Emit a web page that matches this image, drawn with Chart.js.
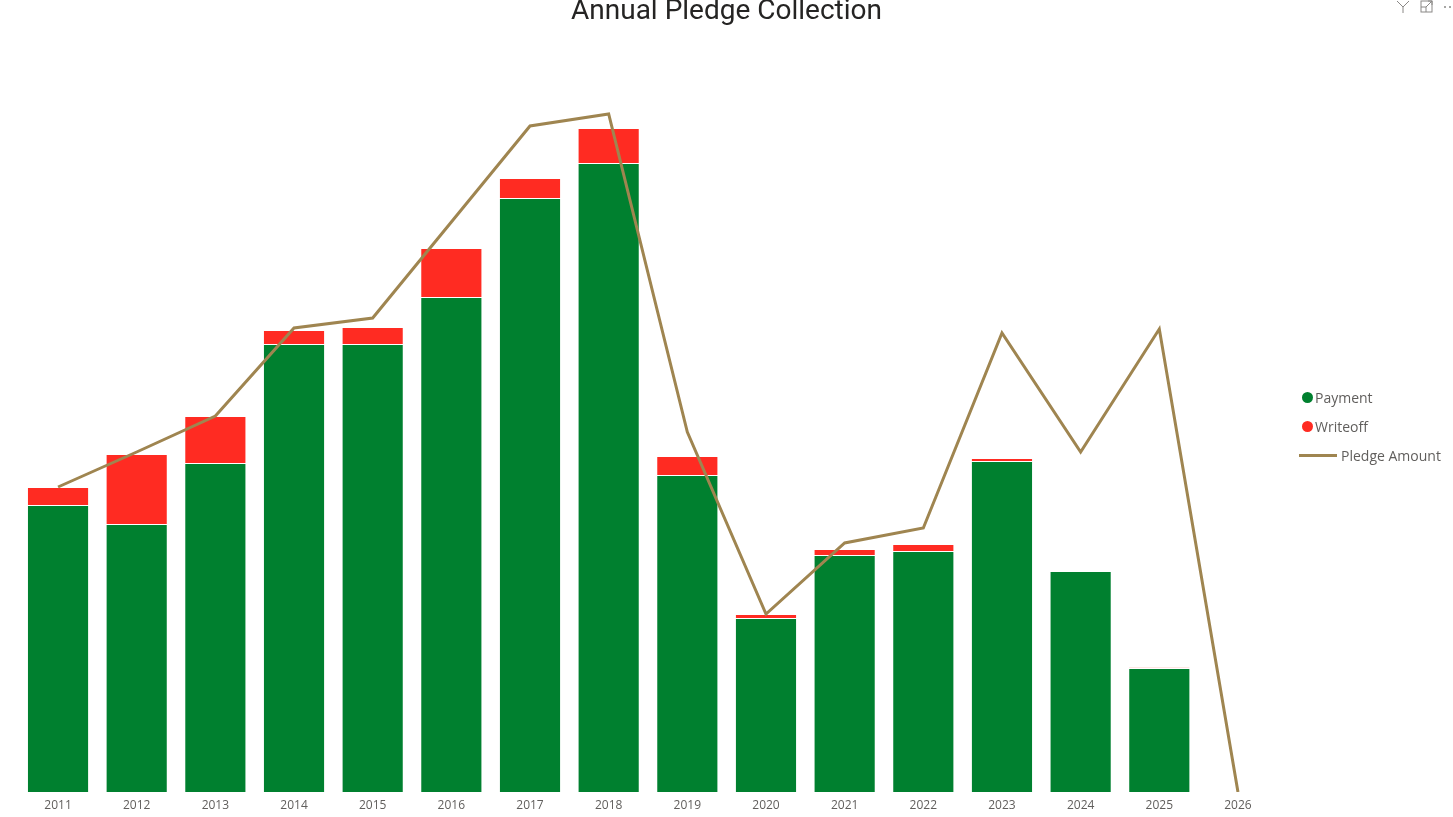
<!DOCTYPE html>
<html>
<head>
<meta charset="utf-8">
<title>Annual Pledge Collection</title>
<script src="https://cdn.jsdelivr.net/npm/chart.js@4/dist/chart.umd.min.js"></script>
<style>
  html, body { margin: 0; padding: 0; background: #fff; overflow: hidden; }
  #wrap { position: relative; width: 1453px; height: 817px; }
  #title {
    position: absolute; left: 0; width: 1453px; top: -7px; text-align: center;
    font-family: Roboto, "DejaVu Sans", sans-serif; font-size: 28px; color: #252423;
  }
  #legend {
    position: absolute; left: 1299px; top: 383px;
    font-family: "Open Sans", "Noto Sans", sans-serif; font-size: 14px; color: #605E5C;
  }
  .item { height: 29px; display: flex; align-items: center; white-space: nowrap; }
  .dot { width: 11px; height: 11px; border-radius: 50%; margin: 0 2px 0 3px; }
  .ln { width: 38px; height: 3px; margin-right: 4px; }
  #icons { position: absolute; right: 0; top: 0; }
</style>
</head>
<body>
<div id="wrap">
  <canvas id="chart" width="1453" height="817"></canvas>
  <div id="title">Annual Pledge Collection</div>
  <div id="legend"></div>
  <svg id="icons" width="80" height="16" viewBox="0 0 80 16">
    <path d="M24 1 L30 7 L30 13 M36 1 L30 7" stroke="#8a8886" fill="none" stroke-width="1"/>
    <rect x="48" y="1" width="11" height="11" stroke="#8a8886" fill="none" stroke-width="1"/>
    <path d="M48 7 L53 7 L53 12 M53 7 L59 1 M55 1 L59 1 L59 5" stroke="#8a8886" fill="none" stroke-width="1"/>
    <circle cx="72" cy="7" r="1" fill="#8a8886"/>
    <circle cx="77" cy="7" r="1" fill="#8a8886"/>
  </svg>
</div>
<script>
// Datos (miles de dólares)
const years = ["2011", "2012", "2013", "2014", "2015", "2016", "2017", "2018",
  "2019", "2020", "2021", "2022", "2023", "2024", "2025", "2026"];
const payment = [2870, 2680, 3290, 4480, 4480, 4950, 5940, 6290,
  3170, 1740, 2370, 2410, 3310, 2210, 1240, 0];
const writeoff = [180, 700, 470, 140, 170, 490, 200, 350,
  190, 40, 60, 70, 30, 0, 5, 0];
const pledgeAmount = [3050, 3400, 3760, 4640, 4740, 5700, 6660, 6780,
  3600, 1780, 2490, 2640, 4590, 3400, 4630, 0];
const yMax = 7520;

// Colores
const paymentColor = "#00802F";
const writeoffColor = "#FF2B22";
const pledgeColor = "#9F8550";
const tickColor = "#605E5C";

// Leyenda HTML
const legendItems = [
  { label: "Payment", color: paymentColor, type: "dot" },
  { label: "Writeoff", color: writeoffColor, type: "dot" },
  { label: "Pledge Amount", color: pledgeColor, type: "ln" },
];
document.getElementById("legend").innerHTML = legendItems
  .map(
    (item) => `
      <div class="item">
        <span class="${item.type}" style="background-color: ${item.color}"></span>${item.label}
      </div>`,
  )
  .join("");

const ctx = document.getElementById("chart").getContext("2d");
new Chart(ctx, {
  type: "bar",
  data: {
    labels: years,
    datasets: [
      {
        type: "line",
        label: "Pledge Amount",
        data: pledgeAmount,
        borderColor: pledgeColor,
        backgroundColor: pledgeColor,
        borderWidth: 3,
        pointRadius: 0,
        tension: 0,
        order: 0,
      },
      {
        label: "Payment",
        data: payment,
        backgroundColor: paymentColor,
        borderColor: "rgba(255,255,255,0.2)",
        borderWidth: 1,
        stack: "s",
        categoryPercentage: 1,
        barPercentage: 0.79,
        order: 1,
      },
      {
        label: "Writeoff",
        data: writeoff,
        backgroundColor: writeoffColor,
        borderColor: "rgba(255,255,255,0.2)",
        borderWidth: 1,
        stack: "s",
        categoryPercentage: 1,
        barPercentage: 0.79,
        order: 1,
      },
    ],
  },
  options: {
    responsive: false,
    animation: false,
    layout: { padding: { left: 18.7, right: 175.7, top: 40, bottom: -1.4 } },
    plugins: {
      legend: { display: false },
      tooltip: { enabled: false },
    },
    scales: {
      x: {
        stacked: true,
        grid: { display: false, drawTicks: false },
        border: { display: false },
        ticks: {
          color: tickColor,
          padding: 6,
          maxRotation: 0,
          font: { family: "'Open Sans', 'Noto Sans', sans-serif", size: 12 },
        },
      },
      y: {
        stacked: true,
        display: false,
        min: 0,
        max: yMax,
      },
    },
  },
});
</script>
</body>
</html>
